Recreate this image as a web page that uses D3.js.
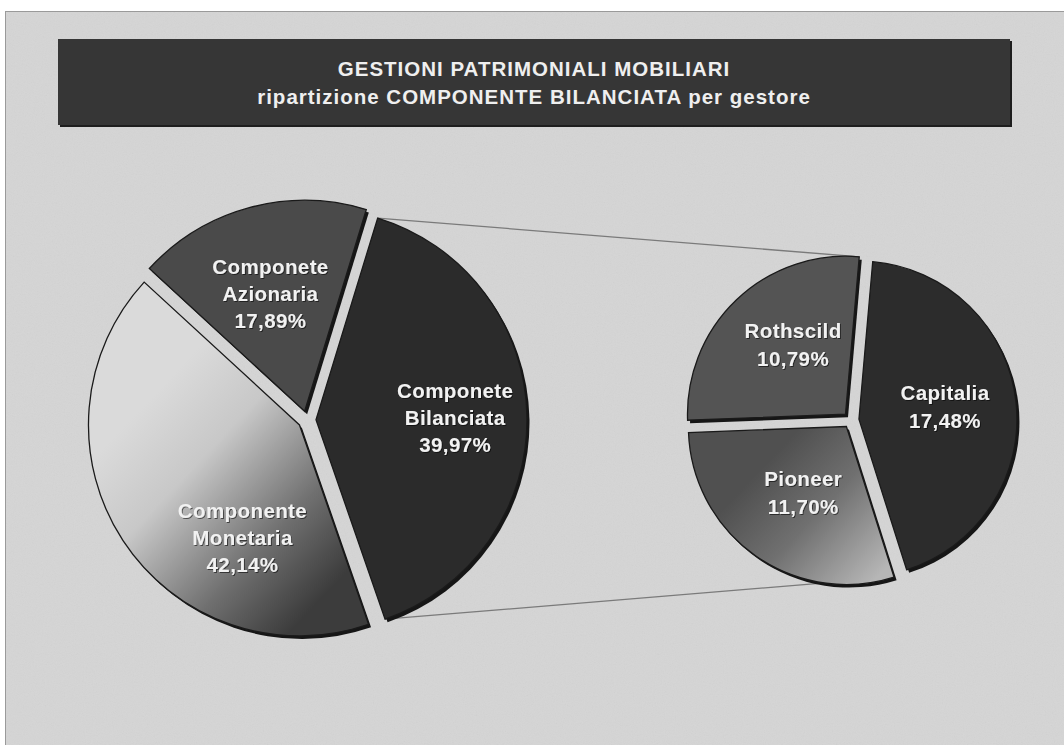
<!DOCTYPE html>
<html>
<head>
<meta charset="utf-8">
<script src="https://cdn.jsdelivr.net/npm/d3@7"></script>
<style>
  html, body { margin: 0; padding: 0; background: #ffffff; }
  svg { display: block; }
  text { font-family: "Liberation Sans", Arial, Helvetica, sans-serif; font-weight: bold; }
</style>
</head>
<body>
<svg id="chart" width="1064" height="745"></svg>
<script>
// ---------------- DATA ----------------
const titleLines = ["GESTIONI PATRIMONIALI MOBILIARI", "ripartizione COMPONENTE BILANCIATA per gestore"];

const mainCategories = ["Componete\nBilanciata", "Componente\nMonetaria", "Componete\nAzionaria"];
const mainValues = [39.97, 42.14, 17.89];

const detailCategories = ["Capitalia", "Pioneer", "Rothscild"];
const detailValues = [17.48, 11.70, 10.79];

// ---------------- LAYOUT / STYLE ----------------
const W = 1064, H = 745;
const deg = Math.PI / 180;
const svg = d3.select("#chart");
const defs = svg.append("defs");

const fmt = v => d3.format(".2f")(v).replace(".", ",") + "%";

// background texture
const noise = defs.append("filter").attr("id", "noise").attr("x", 0).attr("y", 0).attr("width", "100%").attr("height", "100%");
noise.append("feTurbulence").attr("type", "fractalNoise").attr("baseFrequency", 0.9).attr("numOctaves", 2).attr("seed", 3);
noise.append("feColorMatrix").attr("type", "saturate").attr("values", 0);

const shadowF = defs.append("filter").attr("id", "tshadow").attr("x", "-10%").attr("y", "-30%").attr("width", "120%").attr("height", "160%");
shadowF.append("feDropShadow").attr("dx", 1).attr("dy", 1).attr("stdDeviation", 0.6).attr("flood-color", "#000").attr("flood-opacity", 0.55);

svg.append("rect").attr("x", 0).attr("y", 0).attr("width", W).attr("height", H).attr("fill", "#ffffff");
svg.append("rect").attr("x", 5.5).attr("y", 11.5).attr("width", W + 10).attr("height", H + 10)
  .attr("fill", "#d5d5d5").attr("stroke", "#9a9a9a").attr("stroke-width", 1);
svg.append("rect").attr("x", 6).attr("y", 12).attr("width", W).attr("height", H)
  .attr("filter", "url(#noise)").attr("opacity", 0.08);

// title banner
svg.append("rect").attr("x", 60).attr("y", 41).attr("width", 952).attr("height", 86).attr("fill", "#1e1e1e");
svg.append("rect").attr("x", 58).attr("y", 39).attr("width", 952).attr("height", 86).attr("fill", "#363636");
svg.append("g").selectAll("text").data(titleLines).join("text")
  .attr("x", 534).attr("y", (d, i) => 76 + i * 28)
  .attr("text-anchor", "middle")
  .attr("font-size", 20.5).attr("letter-spacing", 1.0)
  .attr("fill", "#efefef").text(d => d);

const layout = {
  main:   { cx: 307, cy: 420, r: 211, start: 17 * deg, explode: 9, lineH: 27,
            labelR: [0.66, 0.6, 0.58], nudge: [0, -30 * deg, -1 * deg] },
  detail: { cx: 851, cy: 420, r: 158, start: 5 * deg,  explode: 8, lineH: 28,
            labelR: [0.55, 0.5, 0.55], nudge: [-2 * deg, -2 * deg, 6.5 * deg] }
};

function buildPie(cfg, values) {
  const pie = d3.pie().sort(null).startAngle(cfg.start).endAngle(cfg.start + 2 * Math.PI);
  return pie(values).map(a => {
    const mid = (a.startAngle + a.endAngle) / 2;
    a.dx = Math.sin(mid) * cfg.explode;
    a.dy = -Math.cos(mid) * cfg.explode;
    return a;
  });
}

const mainArcs = buildPie(layout.main, mainValues);
const detailArcs = buildPie(layout.detail, detailValues);

// gradients, expressed in the slice's own coordinate system (page coords minus slice origin)
function linGrad(id, cfg, a, p1, p2, stops) {
  const ox = cfg.cx + a.dx, oy = cfg.cy + a.dy;
  const g = defs.append("linearGradient").attr("id", id).attr("gradientUnits", "userSpaceOnUse")
    .attr("x1", p1[0] - ox).attr("y1", p1[1] - oy).attr("x2", p2[0] - ox).attr("y2", p2[1] - oy);
  stops.forEach(s => g.append("stop").attr("offset", s[0]).attr("stop-color", s[1]));
}
linGrad("gMon", layout.main, mainArcs[1], [130, 420], [320, 600],
  [[0, "#dadada"], [0.3, "#c8c8c8"], [0.7, "#707070"], [1, "#3c3c3c"]]);
linGrad("gPio", layout.detail, detailArcs[1], [760, 470], [875, 580],
  [[0, "#505050"], [0.45, "#707070"], [1, "#b6b6b6"]]);

const mainFills = ["#2b2b2b", "url(#gMon)", "#4a4a4a"];
const detailFills = ["#2c2c2c", "url(#gPio)", "#545454"];

// connector lines (from the Bilanciata slice corners to the detail pie)
function corner(cfg, a, angle) {
  return [cfg.cx + a.dx + Math.sin(angle) * cfg.r, cfg.cy + a.dy - Math.cos(angle) * cfg.r];
}
const bil = mainArcs[0];
const roth = detailArcs[2], pio = detailArcs[1];
const conn = [
  [corner(layout.main, bil, bil.startAngle), corner(layout.detail, roth, roth.endAngle)],
  [corner(layout.main, bil, bil.endAngle), corner(layout.detail, pio, pio.startAngle)]
];
svg.append("g").selectAll("line").data(conn).join("line")
  .attr("x1", d => d[0][0]).attr("y1", d => d[0][1])
  .attr("x2", d => d[1][0]).attr("y2", d => d[1][1])
  .attr("stroke", "#7a7a7a").attr("stroke-width", 1.3);

function drawPie(cfg, arcs, cats, fills) {
  const arc = d3.arc().innerRadius(0).outerRadius(cfg.r);
  const g = svg.append("g").attr("transform", `translate(${cfg.cx},${cfg.cy})`);
  // 3D rim / shadow
  g.selectAll("path.sh").data(arcs).join("path").attr("class", "sh")
    .attr("transform", d => `translate(${d.dx + 2.5},${d.dy + 3})`)
    .attr("d", arc).attr("fill", "#161616");
  g.selectAll("g.sl").data(arcs).join("g").attr("class", "sl")
    .attr("transform", d => `translate(${d.dx},${d.dy})`)
    .append("path")
    .attr("d", arc)
    .attr("fill", (d, i) => fills[i])
    .attr("stroke", "#1a1a1a").attr("stroke-width", 1.3);
  // labels
  arcs.forEach((d, i) => {
    const mid = (d.startAngle + d.endAngle) / 2 + cfg.nudge[i];
    const rr = cfg.r * cfg.labelR[i];
    const x = cfg.cx + d.dx + Math.sin(mid) * rr;
    const y = cfg.cy + d.dy - Math.cos(mid) * rr;
    const lines = cats[i].split("\n").concat([fmt(d.data)]);
    const y0 = y - (lines.length - 1) * cfg.lineH / 2;
    svg.append("g").selectAll("text").data(lines).join("text")
      .attr("x", x).attr("y", (t, k) => y0 + k * cfg.lineH)
      .attr("dy", "0.36em")
      .attr("text-anchor", "middle")
      .attr("font-size", 20.5).attr("letter-spacing", 0.4)
      .attr("fill", "#f2f2f2")
      .attr("filter", "url(#tshadow)")
      .text(t => t);
  });
}

drawPie(layout.main, mainArcs, mainCategories, mainFills);
drawPie(layout.detail, detailArcs, detailCategories, detailFills);
</script>
</body>
</html>
